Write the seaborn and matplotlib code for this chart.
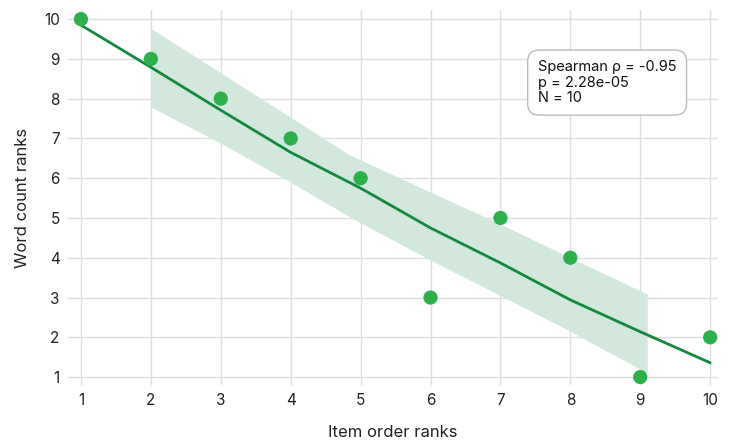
import numpy as np
import pandas as pd
import matplotlib
matplotlib.use("Agg")
import matplotlib.pyplot as plt
import seaborn as sns

# Ranks of each item
item_order_rank = [1, 2, 3, 4, 5, 6, 7, 8, 9, 10]
word_count_rank = [10, 9, 8, 7, 6, 3, 5, 4, 1, 2]

# Smoothed trend through the ranks
fit_x = [1, 2, 3, 4, 5, 6, 7, 8, 9, 10]
fit_y = [9.85, 8.79, 7.71, 6.65, 5.75, 4.75, 3.87, 2.94, 2.14, 1.36]

# Confidence band around the trend
band_x = [2, 3, 4, 4.85, 6, 7, 8, 9.1]
band_lo = [7.79, 6.88, 5.90, 5.02, 3.94, 3.05, 2.15, 1.10]
band_hi = [9.77, 8.65, 7.53, 6.58, 5.65, 4.85, 4.00, 3.09]

spearman_rho = -0.95
p_value = "2.28e-05"
n_items = len(item_order_rank)

sns.set_theme(style="whitegrid")
plt.rcParams["font.family"] = ["Inter", "DejaVu Sans"]

fig = plt.figure(figsize=(7.34, 4.45), dpi=100)
ax = fig.add_axes([0.0926, 0.1348, 0.8854, 0.8427])

ax.fill_between(band_x, band_lo, band_hi, color="#d2e8dc", linewidth=0, zorder=1)

fit = pd.DataFrame({"x": fit_x, "y": fit_y})
sns.lineplot(data=fit, x="x", y="y", ax=ax, color="#13893e", linewidth=2, zorder=2)

pts = pd.DataFrame({"x": item_order_rank, "y": word_count_rank})
sns.scatterplot(data=pts, x="x", y="y", ax=ax, color="#2db04b", s=105,
                edgecolor="none", zorder=3)

ax.set_xlim(0.814, 10.11)
ax.set_ylim(0.8, 10.23)
ax.set_xticks(range(1, 11))
ax.set_yticks(range(1, 11))
ax.tick_params(axis="both", labelsize=11, colors="#222222", length=0, pad=6)
ax.grid(True, color="#dddddd", linewidth=1)
for s in ax.spines.values():
    s.set_visible(False)
ax.set_xlabel("Item order ranks", fontsize=12, color="#222222", labelpad=12)
ax.set_ylabel("Word count ranks", fontsize=12, color="#222222", labelpad=10)

ax.text(0.723, 0.866,
        f"Spearman \u03c1 = {spearman_rho:.2f}\np = {p_value}\nN = {n_items}",
        transform=ax.transAxes, fontsize=10.5, va="top", ha="left",
        linespacing=1.12, color="#111111",
        bbox=dict(boxstyle="round,pad=0.7,rounding_size=0.8",
                  facecolor="white", edgecolor="#bbbbbb", linewidth=1))

fig.savefig("out.png", dpi=100)
